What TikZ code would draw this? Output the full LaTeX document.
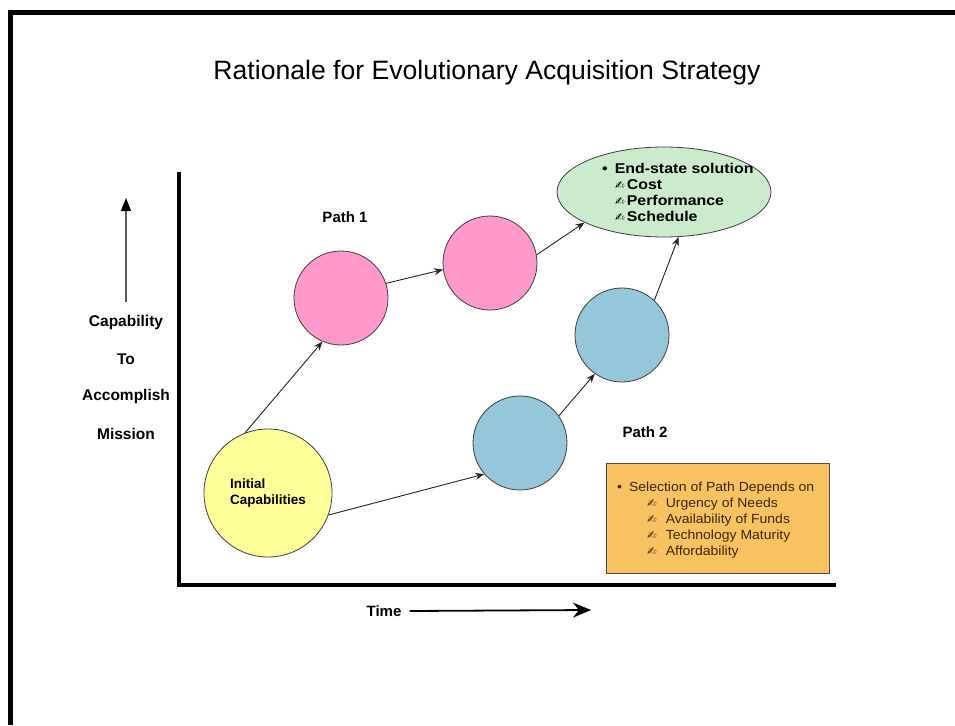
\documentclass[tikz,border=0pt]{standalone}
\usepackage{fontspec}
\setmainfont{Liberation Sans}
\newfontfamily\widefont[FakeStretch=1.12]{Liberation Sans}
\newfontfamily\boxfont[FakeStretch=1.06]{Liberation Sans}
\newfontfamily\symfont{DejaVu Sans}
\usetikzlibrary{shapes.geometric,arrows.meta}
\newcommand{\hnd}{{\symfont\fontsize{11.5}{11.5}\selectfont ✍}}
\definecolor{cyellow}{HTML}{FFFF99}
\definecolor{cpink}{HTML}{FF99CC}
\definecolor{cblue}{HTML}{96C6DA}
\definecolor{cgreen}{HTML}{CCEACC}
\definecolor{corange}{HTML}{F8C263}
\definecolor{cbrown}{HTML}{3A2A08}
\begin{document}
\begin{tikzpicture}[x=1pt,y=-1pt,
  bubble/.style={circle, draw=black!75, line width=0.8pt, inner sep=0pt},
  conn/.style={draw=black!85, line width=0.9pt, -{Stealth[length=9pt,width=7pt]}},
  lbl/.style={font=\fontsize{15}{15}\selectfont\bfseries, inner sep=0pt}
]
\useasboundingbox (0,0) rectangle (955,725);
\fill[white] (0,0) rectangle (955,725);
% frame
\draw[line width=5pt] (10.5,725) -- (10.5,12.5) -- (955,12.5);
% axes
\draw[line width=4pt, line join=miter] (179,172) -- (179,585) -- (836,585);

% title
\node[inner sep=0pt, font=\fontsize{26.6}{26.6}\selectfont] (title) at (487,73) {Rationale for Evolutionary Acquisition Strategy};

% y label
\coordinate (ybase) at (126,302);
\coordinate (ytip) at (126,198);
\draw[draw=black!65, line width=1.3pt, -{Triangle[black,length=13pt,width=10pt]}] (ybase) -- (ytip);
\node[lbl, font=\fontsize{15.5}{15.5}\selectfont\bfseries] (l1) at (126,322) {Capability};
\node[lbl, font=\fontsize{15.5}{15.5}\selectfont\bfseries] (l2) at (126,359) {To};
\node[lbl, font=\fontsize{15.5}{15.5}\selectfont\bfseries] (l3) at (126,396) {Accomplish};
\node[lbl, font=\fontsize{15.5}{15.5}\selectfont\bfseries] (l4) at (126,434) {Mission};

% time label
\node[lbl, font=\fontsize{15}{15}\selectfont\bfseries] (time) at (384,611) {Time};
\coordinate (ttip) at (591,610);
\draw[line width=1.8pt, -{Stealth[length=18pt,width=15pt]}] (time.east) ++(8,0) -- (ttip);

% path labels
\node[lbl] (path1) at (345,217) {Path 1};
\node[lbl] (path2) at (645,432) {Path 2};

% bubbles
\node[bubble, fill=cyellow, minimum size=128pt, align=left,
      font=\fontsize{13.5}{16}\selectfont\bfseries] (init) at (268,493) {Initial\\Capabilities};
\node[bubble, fill=cpink, minimum size=94pt] (p1) at (341,298) {};
\node[bubble, fill=cpink, minimum size=94pt] (p2) at (490,263) {};
\node[bubble, fill=cblue, minimum size=94pt] (b1) at (520,443) {};
\node[bubble, fill=cblue, minimum size=94pt] (b2) at (622,335) {};

% end state
\node[ellipse, draw=black!75, line width=0.8pt, fill=cgreen, minimum width=214pt, minimum height=90pt, inner sep=0pt] (ell) at (664,192) {};
\node[anchor=north west, inner sep=0pt, align=left, font=\widefont\fontsize{14.2}{16}\selectfont\bfseries] (elltext) at (602,163)
  {\textbullet\hspace{7pt}End-state solution\\
   \hspace{13pt}\hnd\hspace{2pt}Cost\\
   \hspace{13pt}\hnd\hspace{2pt}Performance\\
   \hspace{13pt}\hnd\hspace{2pt}Schedule};

% selection box
\node[draw=black!70, line width=0.8pt, fill=corange, minimum width=223pt, minimum height=110pt] (sel) at (717.5,518) {};
\node[anchor=north west, inner sep=0pt, align=left, text=cbrown,
      font=\boxfont\fontsize{13.2}{16}\selectfont] (seltext) at (617,482)
  {\textbullet\hspace{7pt}Selection of Path Depends on\\
   \hspace{30pt}\hnd\hspace{9pt}Urgency of Needs\\
   \hspace{30pt}\hnd\hspace{9pt}Availability of Funds\\
   \hspace{30pt}\hnd\hspace{9pt}Technology Maturity\\
   \hspace{30pt}\hnd\hspace{9pt}Affordability};

% connectors
\draw[conn] (init.111) -- (p1.247);
\draw[conn] (p1.18) -- (p2.188);
\draw[conn] (p2.10) -- (ell.201);
\draw[conn] (init.340) -- (b1.221);
\draw[conn] (b1.35) -- (b2.235);
\draw[conn] (b2.47) -- (ell.288);
\end{tikzpicture}
\end{document}
